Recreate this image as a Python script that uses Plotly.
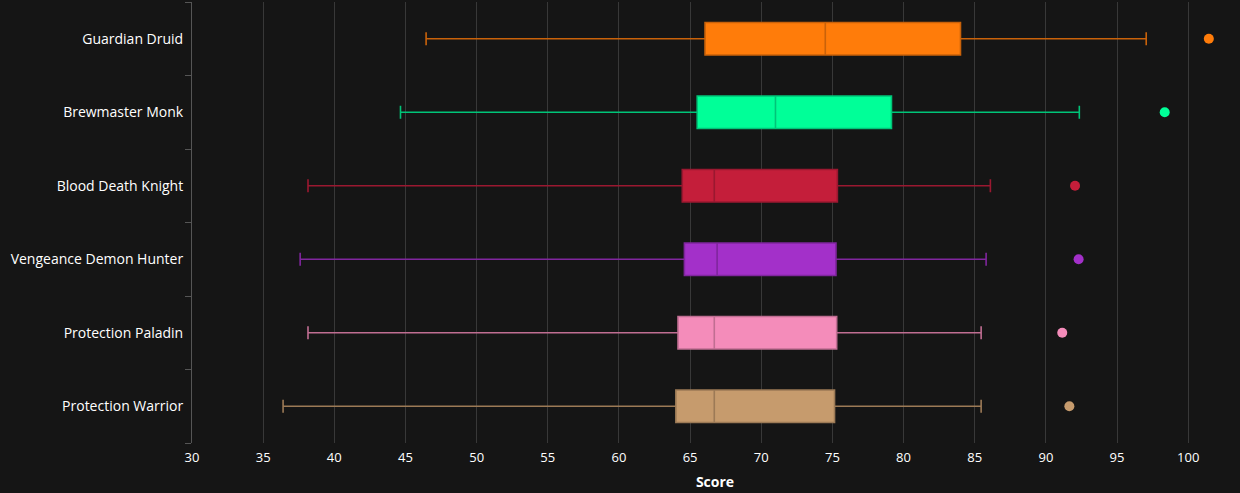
import plotly.graph_objects as go

specs = ["Guardian Druid", "Brewmaster Monk", "Blood Death Knight",
         "Vengeance Demon Hunter", "Protection Paladin", "Protection Warrior"]
lower = [46.45, 44.65, 38.15, 37.6, 38.15, 36.4]
q1 = [66.05, 65.5, 64.45, 64.6, 64.15, 64.0]
median = [74.5, 71.0, 66.7, 66.9, 66.7, 66.7]
q3 = [84.0, 79.15, 75.35, 75.25, 75.3, 75.15]
upper = [97.05, 92.35, 86.1, 85.8, 85.45, 85.45]
outlier = [101.45, 98.35, 92.05, 92.3, 91.15, 91.65]
fill_colors = ["#FF7C0A", "#00FF98", "#C41E3A", "#A330C9", "#F48CBA", "#C69B6D"]
line_colors = ["#C9620A", "#00C478", "#9A1830", "#80269E", "#C06E92", "#9C7A56"]

fig = go.Figure()
for i, s in enumerate(specs):
    fig.add_trace(go.Box(
        y=[s], q1=[q1[i]], median=[median[i]], q3=[q3[i]],
        lowerfence=[lower[i]], upperfence=[upper[i]],
        orientation="h", name=s, fillcolor=fill_colors[i],
        line=dict(color=line_colors[i], width=1.6),
        whiskerwidth=0.4, boxpoints=False, showlegend=False,
        hoverinfo="x+name",
    ))
    fig.add_trace(go.Scatter(
        x=[outlier[i]], y=[s], mode="markers",
        marker=dict(color=fill_colors[i], size=10),
        showlegend=False, hoverinfo="x",
    ))

fig.update_layout(
    width=1240, height=493,
    margin=dict(l=192, r=2, t=2, b=50),
    paper_bgcolor="#151515", plot_bgcolor="#151515",
    font=dict(family="Open Sans", color="#FFFFFF", size=13),
    boxmode="overlay", boxgap=0.37,
)
fig.update_xaxes(
    range=[30, 103.5], tickvals=list(range(30, 101, 5)),
    showgrid=True, gridcolor="#383838", gridwidth=1,
    zeroline=False, showline=False, ticks="",
    tickfont=dict(size=13, color="#FFFFFF"), ticklabelstandoff=5,
    title=dict(text="<b>Score</b>", font=dict(size=14, color="#FFFFFF"), standoff=12),
)
fig.update_yaxes(
    type="category", categoryorder="array", categoryarray=specs[::-1],
    autorange=False, range=[-0.5, 5.5],
    showgrid=False, zeroline=False,
    showline=True, linecolor="#555555", linewidth=1,
    ticks="outside", tickson="boundaries", ticklen=6, tickcolor="#555555",
    tickfont=dict(size=14, color="#FFFFFF"), ticklabelstandoff=5,
)
fig.write_html("out.html")
